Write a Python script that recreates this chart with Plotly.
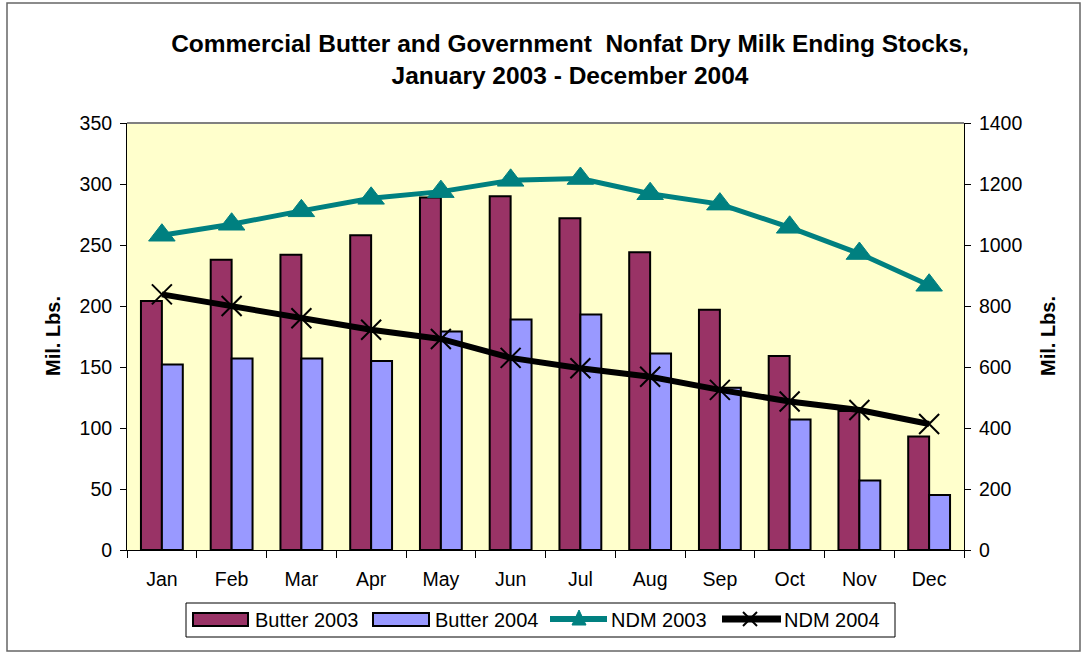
import plotly.graph_objects as go

months = ["Jan", "Feb", "Mar", "Apr", "May", "Jun", "Jul", "Aug", "Sep", "Oct", "Nov", "Dec"]
butter_2003 = [204, 238, 242, 258, 289, 290, 272, 244, 197, 159, 114, 93]
butter_2004 = [152, 157, 157, 155, 179, 189, 193, 161, 133, 107, 57, 45]
ndm_2003 = [1032, 1068, 1112, 1153, 1175, 1212, 1218, 1168, 1134, 1058, 972, 868]
ndm_2004 = [838, 800, 760, 722, 692, 630, 596, 568, 525, 487, 459, 413]

series_names = ["Butter 2003", "Butter 2004", "NDM 2003", "NDM 2004"]
MAROON, PERI, TEAL, BLACK = "#993366", "#9999FF", "#008080", "black"

FONT = "Liberation Sans, Arial, sans-serif"

W, H = 1084, 653
ml, mr, mt, mb = 127, 120, 123, 103
pw, ph = W - ml - mr, H - mt - mb


def px(x):
    return (x - ml) / pw


def py(y):
    return (H - mb - y) / ph


fig = go.Figure()
fig.add_trace(go.Bar(x=months, y=butter_2003, name=series_names[0],
                     marker=dict(color=MAROON, line=dict(color="black", width=2))))
fig.add_trace(go.Bar(x=months, y=butter_2004, name=series_names[1],
                     marker=dict(color=PERI, line=dict(color="black", width=2))))
fig.add_trace(go.Scatter(x=months, y=ndm_2003, name=series_names[2], yaxis="y2",
                         mode="lines+markers",
                         line=dict(color=TEAL, width=5),
                         marker=dict(symbol="triangle-up", size=23, color=TEAL,
                                     line=dict(color=TEAL, width=1))))
fig.add_trace(go.Scatter(x=months, y=ndm_2004, name=series_names[3], yaxis="y2",
                         mode="lines+markers",
                         line=dict(color=BLACK, width=6),
                         marker=dict(symbol="x-thin", size=20, color=BLACK,
                                     line=dict(color=BLACK, width=2))))

fig.update_layout(
    width=W, height=H,
    margin=dict(l=ml, r=mr, t=mt, b=mb),
    paper_bgcolor="white",
    plot_bgcolor="#FFFFCC",
    font=dict(family=FONT, size=19, color="black"),
    barmode="group", bargap=0.4, bargroupgap=0,
    showlegend=False,
    title=dict(text="<b>Commercial Butter and Government  Nonfat Dry Milk Ending Stocks,<br>January 2003 - December 2004</b>",
               x=px(570), xref="paper", xanchor="center",
               y=1 - 52 / H, yanchor="middle",
               font=dict(family=FONT, size=24.5, color="black")),
    xaxis=dict(range=[-0.5, len(months) - 0.5], showline=True, linecolor="black", linewidth=1,
               ticks="outside", ticklen=7, tickcolor="black",
               tickson="boundaries", showgrid=False,
               ticklabelstandoff=12, tickfont=dict(size=19.5)),
    yaxis=dict(range=[0, 350], dtick=50, showline=True, linecolor="black",
               ticks="outside", ticklen=6, tickcolor="black", ticklabelstandoff=4,
               showgrid=False, zeroline=False, tickfont=dict(size=19.5)),
    yaxis2=dict(range=[0, 1400], dtick=200, overlaying="y", side="right",
                showline=True, linecolor="black",
                ticks="outside", ticklen=6, tickcolor="black", ticklabelstandoff=4,
                showgrid=False, zeroline=False, tickfont=dict(size=19.5)),
)

shapes = []
# plot-area top border
shapes.append(dict(type="line", xref="paper", yref="paper", x0=0, x1=1, y0=1, y1=1,
                   line=dict(color="#808080", width=2)))
# outer chart frame
shapes.append(dict(type="rect", xref="paper", yref="paper",
                   x0=px(7), x1=px(1080), y0=py(651), y1=py(3),
                   line=dict(color="#666666", width=1.5), layer="below"))

# custom legend (Excel style)
ly = 619
shapes.append(dict(type="rect", xref="paper", yref="paper",
                   x0=px(186), x1=px(895), y0=py(637), y1=py(603),
                   line=dict(color="black", width=1), fillcolor="white", layer="below"))
shapes.append(dict(type="rect", xref="paper", yref="paper",
                   x0=px(193), x1=px(248), y0=py(626), y1=py(613),
                   line=dict(color="black", width=2), fillcolor=MAROON))
shapes.append(dict(type="rect", xref="paper", yref="paper",
                   x0=px(373), x1=px(429), y0=py(626), y1=py(613),
                   line=dict(color="black", width=2), fillcolor=PERI))
shapes.append(dict(type="line", xref="paper", yref="paper",
                   x0=px(550), x1=px(607), y0=py(ly), y1=py(ly),
                   line=dict(color=TEAL, width=6)))
tx = 579
tri = f"M {px(tx-7)} {py(ly+6)} L {px(tx+7)} {py(ly+6)} L {px(tx)} {py(ly-9)} Z"
shapes.append(dict(type="path", xref="paper", yref="paper", path=tri,
                   fillcolor=TEAL, line=dict(color=TEAL, width=1)))
shapes.append(dict(type="line", xref="paper", yref="paper",
                   x0=px(722), x1=px(781), y0=py(ly), y1=py(ly),
                   line=dict(color=BLACK, width=7)))
xx = 750
for dx in (-1, 1):
    shapes.append(dict(type="line", xref="paper", yref="paper",
                       x0=px(xx - 7 * dx), x1=px(xx + 7 * dx), y0=py(ly - 7), y1=py(ly + 7),
                       line=dict(color=BLACK, width=2)))
fig.update_layout(shapes=shapes)

annotations = []
for name, xpos in zip(series_names, [253, 433, 609, 782]):
    annotations.append(dict(text=name, xref="paper", yref="paper", x=px(xpos), y=py(ly + 1),
                            xanchor="left", yanchor="middle", showarrow=False,
                            font=dict(family=FONT, size=20, color="black")))
for xpos in [53, 1048]:
    annotations.append(dict(text="<b>Mil. Lbs.</b>", xref="paper", yref="paper",
                            x=px(xpos), y=py(336), textangle=-90, showarrow=False,
                            font=dict(family=FONT, size=20, color="black"),
                            xanchor="center", yanchor="middle"))
fig.update_layout(annotations=annotations)

fig.write_html("out.html", config={"displayModeBar": False},
               post_script="document.body.style.margin='0px';document.body.style.overflow='hidden';")
